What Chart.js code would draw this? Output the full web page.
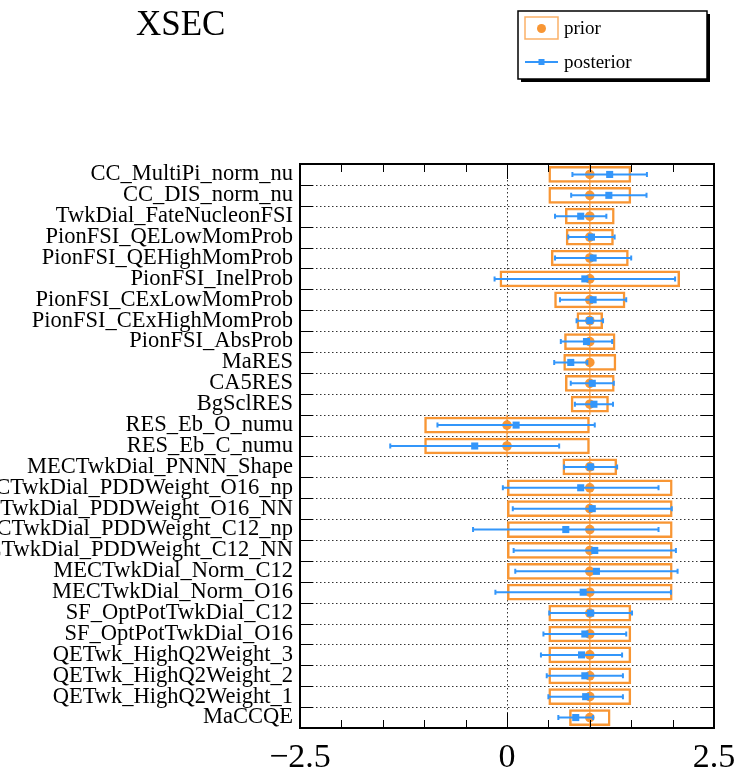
<!DOCTYPE html>
<html>
<head>
<meta charset="utf-8">
<script src="https://cdn.jsdelivr.net/npm/chart.js@4.4.0/dist/chart.umd.min.js"></script>
<style>
  html, body { margin: 0; padding: 0; background: #fff; }
  #c { display: block; }
</style>
</head>
<body>
<canvas id="c" width="737" height="769" style="width:737px;height:769px"></canvas>
<script>
// parameter names, top to bottom
const labels = [
  'CC_MultiPi_norm_nu', 'CC_DIS_norm_nu', 'TwkDial_FateNucleonFSI',
  'PionFSI_QELowMomProb', 'PionFSI_QEHighMomProb', 'PionFSI_InelProb',
  'PionFSI_CExLowMomProb', 'PionFSI_CExHighMomProb', 'PionFSI_AbsProb',
  'MaRES', 'CA5RES', 'BgSclRES', 'RES_Eb_O_numu', 'RES_Eb_C_numu',
  'MECTwkDial_PNNN_Shape', 'MECTwkDial_PDDWeight_O16_np', 'MECTwkDial_PDDWeight_O16_NN',
  'MECTwkDial_PDDWeight_C12_np', 'MECTwkDial_PDDWeight_C12_NN',
  'MECTwkDial_Norm_C12', 'MECTwkDial_Norm_O16',
  'SF_OptPotTwkDial_C12', 'SF_OptPotTwkDial_O16',
  'QETwk_HighQ2Weight_3', 'QETwk_HighQ2Weight_2', 'QETwk_HighQ2Weight_1', 'MaCCQE'
];
const priorVal = [1, 1, 1, 1, 1, 1, 1, 1, 1, 1, 1, 1, 0, 0, 1, 1, 1, 1, 1, 1, 1, 1, 1, 1, 1, 1, 1];
const priorErr = [0.5, 0.5, 0.3, 0.29, 0.47, 1.09, 0.43, 0.16, 0.31, 0.32, 0.3, 0.23, 1, 1,
                  0.33, 1, 1, 1, 1, 1, 1, 0.5, 0.5, 0.5, 0.5, 0.5, 0.25];
const postVal = [1.24, 1.23, 0.89, 1.02, 1.04, 0.94, 1.04, 1.0, 0.96, 0.77, 1.03, 1.05, 0.11, -0.39,
                 1.01, 0.89, 1.03, 0.71, 1.06, 1.08, 0.92, 1.01, 0.94, 0.90, 0.94, 0.95, 0.83];
const postErr = [0.45, 0.455, 0.31, 0.28, 0.46, 1.09, 0.40, 0.16, 0.31, 0.20, 0.26, 0.23, 0.95, 1.02,
                 0.32, 0.94, 0.96, 1.12, 0.98, 0.98, 1.06, 0.50, 0.50, 0.49, 0.46, 0.45, 0.21];
const xTickLabels = [-2.5, 0, 2.5];
const xMinorStep = 0.5;

const ORANGE = 'rgb(248,150,52)';
const ORANGE_LINE = 'rgba(248,150,52,0.75)';
const BLUE = 'rgb(51,150,250)';
const SERIF = '"Liberation Serif", "DejaVu Serif", serif';

const rootStyle = {
  id: 'rootStyle',
  beforeDatasetsDraw(chart) {
    const { ctx, chartArea: a, scales: { x, y } } = chart;
    ctx.save();
    ctx.strokeStyle = '#333';
    ctx.lineWidth = 1;
    ctx.setLineDash([1.5, 2.5]);
    for (let i = 0; i < labels.length - 1; i++) {
      const py = Math.round(y.getPixelForValue(i + 0.5)) + 0.5;
      ctx.beginPath(); ctx.moveTo(a.left, py); ctx.lineTo(a.right, py); ctx.stroke();
    }
    const p0 = Math.round(x.getPixelForValue(0)) + 0.5;
    ctx.beginPath(); ctx.moveTo(p0, a.top); ctx.lineTo(p0, a.bottom); ctx.stroke();
    ctx.restore();
  },
  afterDatasetDraw(chart, args) {
    const { ctx, chartArea: a, scales: { x, y } } = chart;
    ctx.save();
    ctx.beginPath(); ctx.rect(a.left, a.top, a.width, a.height); ctx.clip();
    if (args.index === 0) {
      // prior y-error lines through the whole row
      ctx.strokeStyle = ORANGE_LINE; ctx.lineWidth = 1.6;
      priorVal.forEach((v, i) => {
        const px = x.getPixelForValue(v);
        ctx.beginPath();
        ctx.moveTo(px, y.getPixelForValue(i - 0.5));
        ctx.lineTo(px, y.getPixelForValue(i + 0.5));
        ctx.stroke();
      });
    }
    if (args.index === 1) {
      // posterior error bars
      ctx.strokeStyle = BLUE; ctx.lineWidth = 2;
      postVal.forEach((v, i) => {
        const py = y.getPixelForValue(i);
        const l = x.getPixelForValue(v - postErr[i]);
        const r = x.getPixelForValue(v + postErr[i]);
        ctx.beginPath();
        ctx.moveTo(l, py); ctx.lineTo(r, py);
        ctx.moveTo(l, py - 2.5); ctx.lineTo(l, py + 2.5);
        ctx.moveTo(r, py - 2.5); ctx.lineTo(r, py + 2.5);
        ctx.stroke();
      });
    }
    ctx.restore();
  },
  afterDraw(chart) {
    const { ctx, chartArea: a, scales: { x, y } } = chart;
    ctx.save();
    // ticks
    ctx.strokeStyle = '#000'; ctx.lineWidth = 1;
    const minor = 8, major = 15;
    for (let v = x.min; v <= x.max + 1e-9; v += xMinorStep) {
      const px = Math.round(x.getPixelForValue(v)) + 0.5;
      const len = xTickLabels.some(t => Math.abs(t - v) < 1e-9) ? major : minor;
      ctx.beginPath();
      ctx.moveTo(px, a.bottom); ctx.lineTo(px, a.bottom - len);
      ctx.moveTo(px, a.top); ctx.lineTo(px, a.top + len);
      ctx.stroke();
    }
    for (let i = 0; i < labels.length - 1; i++) {
      const py = Math.round(y.getPixelForValue(i + 0.5)) + 0.5;
      ctx.beginPath();
      ctx.moveTo(a.left, py); ctx.lineTo(a.left + 13, py);
      ctx.moveTo(a.right, py); ctx.lineTo(a.right - 13, py);
      ctx.stroke();
    }
    // frame
    ctx.lineWidth = 2;
    ctx.strokeRect(a.left, a.top, a.width, a.height);

    // title
    ctx.fillStyle = '#000';
    ctx.font = '35px ' + SERIF;
    ctx.textAlign = 'left'; ctx.textBaseline = 'middle';
    ctx.fillText('XSEC', 136, 26);

    // legend
    const lx = 518, ly = 11, lw = 189, lh = 68;
    ctx.fillStyle = '#000';
    ctx.fillRect(lx + 3, ly + 3, lw, lh);
    ctx.fillStyle = '#fff';
    ctx.fillRect(lx, ly, lw, lh);
    ctx.lineWidth = 1.5; ctx.strokeStyle = '#000';
    ctx.strokeRect(lx, ly, lw, lh);

    ctx.strokeStyle = ORANGE_LINE; ctx.lineWidth = 1.5;
    ctx.strokeRect(525, 17, 33, 22);
    ctx.fillStyle = ORANGE;
    ctx.beginPath(); ctx.arc(541.5, 28.5, 4.5, 0, Math.PI * 2); ctx.fill();

    ctx.strokeStyle = BLUE; ctx.lineWidth = 2;
    ctx.beginPath(); ctx.moveTo(525, 62); ctx.lineTo(558, 62); ctx.stroke();
    ctx.fillStyle = BLUE;
    ctx.fillRect(538.5, 59, 6, 6);

    ctx.fillStyle = '#000';
    ctx.font = '19px ' + SERIF;
    ctx.fillText('prior', 564, 29);
    ctx.fillText('posterior', 564, 63);
    ctx.restore();
  }
};

new Chart(document.getElementById('c'), {
  type: 'bar',
  data: {
    labels: labels,
    datasets: [
      {
        label: 'prior band',
        data: priorVal.map((v, i) => [v - priorErr[i], v + priorErr[i]]),
        backgroundColor: 'rgba(0,0,0,0)',
        borderColor: ORANGE,
        borderWidth: 2.5,
        borderSkipped: false,
        barPercentage: 0.8,
        categoryPercentage: 1.0,
        order: 3
      },
      {
        type: 'line',
        label: 'prior',
        data: priorVal,
        showLine: false,
        pointStyle: 'circle',
        pointRadius: 4.8,
        pointBackgroundColor: ORANGE,
        pointBorderWidth: 0,
        order: 2
      },
      {
        type: 'line',
        label: 'posterior',
        data: postVal,
        showLine: false,
        pointStyle: 'rect',
        pointRadius: 5,
        pointBackgroundColor: BLUE,
        pointBorderWidth: 0,
        order: 1
      }
    ]
  },
  options: {
    indexAxis: 'y',
    responsive: false,
    animation: false,
    layout: { padding: { left: 0, right: 23, top: 164, bottom: 0 } },
    plugins: {
      legend: { display: false },
      tooltip: { enabled: false },
      title: { display: false }
    },
    scales: {
      x: {
        type: 'linear',
        min: -2.5,
        max: 2.5,
        grid: { display: false, drawTicks: false },
        border: { display: false },
        afterBuildTicks: s => { s.ticks = xTickLabels.map(v => ({ value: v })); },
        afterFit: s => { s.height = 41; s.paddingLeft = 0; s.paddingRight = 0; },
        ticks: {
          padding: 10,
          color: '#000',
          font: { family: SERIF, size: 34 },
          maxRotation: 0,
          callback: v => (v < 0 ? '\u2212' + Math.abs(v) : String(v))
        }
      },
      y: {
        type: 'category',
        offset: true,
        grid: { display: false, drawTicks: false },
        border: { display: false },
        afterFit: s => { s.width = 300; s.paddingTop = 0; s.paddingBottom = 0; },
        ticks: {
          autoSkip: false,
          padding: 7,
          color: '#000',
          font: { family: SERIF, size: 22.5 }
        }
      }
    }
  },
  plugins: [rootStyle]
});
</script>
</body>
</html>
